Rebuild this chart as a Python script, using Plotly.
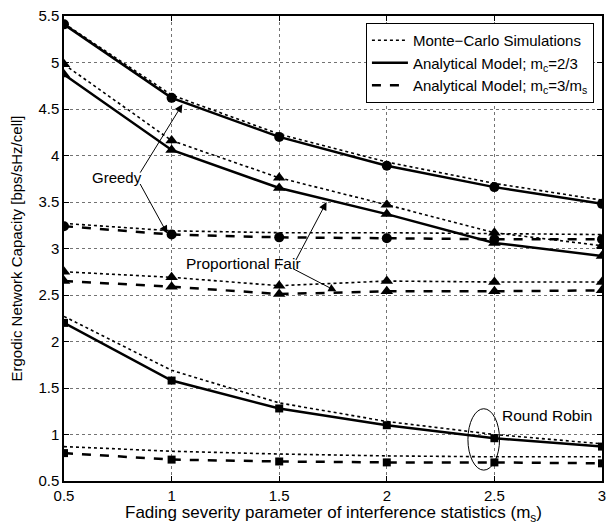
import plotly.graph_objects as go

x = [0.5, 1.0, 1.5, 2.0, 2.5, 3.0]
x_ticks = [0.5, 1, 1.5, 2, 2.5, 3]
y_ticks = [0.5, 1, 1.5, 2, 2.5, 3, 3.5, 4, 4.5, 5, 5.5]

# Greedy
greedy_mc_a = [5.42, 4.65, 4.23, 3.93, 3.70, 3.52]
greedy_an_a = [5.41, 4.62, 4.20, 3.89, 3.66, 3.48]
greedy_mc_b = [3.27, 3.19, 3.17, 3.17, 3.16, 3.15]
greedy_an_b = [3.24, 3.15, 3.12, 3.11, 3.10, 3.10]
# Proportional Fair
pf_mc_a = [4.98, 4.16, 3.76, 3.47, 3.17, 3.03]
pf_an_a = [4.87, 4.06, 3.65, 3.37, 3.06, 2.92]
pf_mc_b = [2.75, 2.69, 2.60, 2.65, 2.64, 2.64]
pf_an_b = [2.65, 2.59, 2.51, 2.54, 2.54, 2.55]
# Round Robin
rr_mc_a = [2.27, 1.69, 1.34, 1.14, 1.00, 0.90]
rr_an_a = [2.20, 1.58, 1.28, 1.10, 0.96, 0.87]
rr_mc_b = [0.87, 0.82, 0.79, 0.77, 0.76, 0.76]
rr_an_b = [0.80, 0.73, 0.71, 0.70, 0.70, 0.69]

fig = go.Figure()

def add(y, dash, width, symbol=None, size=9):
    mode = "lines+markers" if symbol else "lines"
    fig.add_trace(go.Scatter(
        x=x, y=y, mode=mode, showlegend=False,
        line=dict(color="black", dash=dash, width=width),
        marker=dict(symbol=symbol or "circle", size=size, color="black"),
        hoverinfo="skip"))

# MC (dotted)
add(greedy_mc_a, "dot", 1.6)
add(greedy_mc_b, "dot", 1.6)
add(pf_mc_a, "dot", 1.6, "triangle-up", 11)
add(pf_mc_b, "dot", 1.6, "triangle-up", 11)
add(rr_mc_a, "dot", 1.6)
add(rr_mc_b, "dot", 1.6)
# analytical
add(greedy_an_a, "solid", 2.5, "circle", 10)
add(greedy_an_b, "dash", 2.5, "circle", 10)
add(pf_an_a, "solid", 2.5, "triangle-up", 11)
add(pf_an_b, "dash", 2.5, "triangle-up", 11)
add(rr_an_a, "solid", 2.5, "square", 8)
add(rr_an_b, "dash", 2.5, "square", 8)

# legend entries
for name, dash, w in [("Monte\u2212Carlo Simulations", "dot", 1.6),
                      ("Analytical Model; m<sub>c</sub>=2/3", "solid", 2.5),
                      ("Analytical Model; m<sub>c</sub>=3/m<sub>s</sub>", "dash", 2.5)]:
    fig.add_trace(go.Scatter(x=[None], y=[None], mode="lines", name=name,
                             line=dict(color="black", dash=dash, width=w)))

font = "Liberation Sans"

def arrow(tx, ty, hx, hy, **kw):
    fig.add_annotation(x=hx, y=hy, ax=tx, ay=ty, xref="x", yref="y", axref="x", ayref="y",
                       text="", showarrow=True, arrowhead=2, arrowsize=1.6, arrowwidth=1,
                       arrowcolor="black", **kw)

fig.add_annotation(x=0.745, y=3.76, text="Greedy", showarrow=False, xref="x", yref="y",
                   font=dict(size=15, color="black", family=font))
arrow(0.85, 3.80, 1.05, 4.55)
arrow(0.85, 3.71, 0.98, 3.16)
fig.add_annotation(x=1.335, y=2.84, text="Proportional Fair", showarrow=False, xref="x", yref="y",
                   font=dict(size=15.5, color="black", family=font))
arrow(1.574, 2.86, 1.72, 3.50)
arrow(1.558, 2.79, 1.766, 2.54)
fig.add_annotation(x=2.743, y=1.20, text="Round Robin", showarrow=False, xref="x", yref="y",
                   font=dict(size=15.5, color="black", family=font))
fig.add_shape(type="circle", xref="x", yref="y", x0=2.377, x1=2.524, y0=0.617, y1=1.277,
              line=dict(color="black", width=1))

# x-axis title as a paper annotation for precise placement
fig.add_annotation(x=0.5, y=0, xref="paper", yref="paper", xanchor="center", yanchor="top",
                   yshift=-20, showarrow=False,
                   text="Fading severity parameter of interference statistics (m<sub>s</sub>)",
                   font=dict(size=17, color="black", family=font))

axis_common = dict(showline=True, linecolor="black", linewidth=1.5, mirror="ticks",
                   ticks="inside", ticklen=5, tickcolor="black",
                   showgrid=True, gridcolor="rgba(0,0,0,0.55)", griddash="dot", gridwidth=1,
                   zeroline=False, tickfont=dict(size=15, color="black", family=font))

fig.update_xaxes(range=[0.5, 3], tickvals=x_ticks, ticktext=[str(v) for v in x_ticks],
                 **axis_common)
fig.update_yaxes(range=[0.5, 5.5], tickvals=y_ticks, ticktext=[f"{v:g}" for v in y_ticks],
                 title=dict(text="Ergodic Network Capacity [bps/sHz/cell]",
                            font=dict(size=15, color="black", family=font), standoff=12),
                 **axis_common)

fig.update_layout(
    width=613, height=525, margin=dict(l=64, r=7, t=13, b=44),
    plot_bgcolor="white", paper_bgcolor="white",
    font=dict(family=font, color="black"),
    legend=dict(x=0.985, y=0.985, xanchor="right", yanchor="top",
                bgcolor="white", bordercolor="black", borderwidth=1,
                font=dict(size=15, color="black", family=font),
                tracegroupgap=0, itemwidth=36),
)

fig.write_html("out.html")
